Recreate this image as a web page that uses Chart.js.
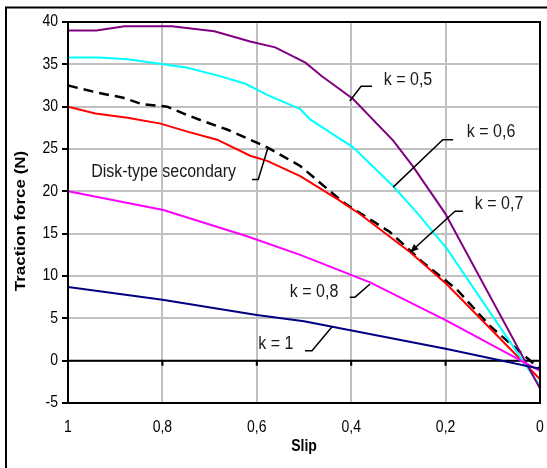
<!DOCTYPE html>
<html>
<head>
<meta charset="utf-8">
<script src="https://cdn.jsdelivr.net/npm/chart.js@4.4.0/dist/chart.umd.min.js"></script>
<style>
  html, body { margin: 0; padding: 0; background: #fff; }
  #wrap { position: relative; width: 547px; height: 468px; }
</style>
</head>
<body>
<div id="wrap"><canvas id="chart" width="547" height="468"></canvas></div>
<script>
// values (slip, traction force N)
const slipK05 = [1, 0.94, 0.88, 0.78, 0.69, 0.614, 0.561, 0.497, 0.462, 0.396, 0.311, 0.27, 0.201, 0];
const forceK05 = [39.0, 39.0, 39.5, 39.5, 38.9, 37.7, 37.0, 35.2, 33.6, 30.9, 26.0, 23.0, 17.4, -3.3];

const slipK06 = [1, 0.935, 0.874, 0.798, 0.747, 0.684, 0.624, 0.578, 0.508, 0.487, 0.396, 0.311, 0.258, 0.197, 0];
const forceK06 = [35.8, 35.8, 35.6, 35.0, 34.6, 33.7, 32.7, 31.4, 29.7, 28.5, 25.2, 20.6, 17.3, 13.2, -3.0];

const slipK07 = [1, 0.942, 0.874, 0.804, 0.747, 0.684, 0.614, 0.578, 0.508, 0.43, 0.381, 0.275, 0.197, 0];
const forceK07 = [30.0, 29.2, 28.7, 28.0, 27.05, 26.1, 24.2, 23.6, 21.8, 19.1, 17.3, 12.8, 9.0, -2.2];

const slipK08 = [1, 0.798, 0.624, 0.508, 0.36, 0.197, 0];
const forceK08 = [20.0, 17.8, 14.75, 12.5, 9.25, 4.7, -1.2];

const slipK1 = [1, 0.8, 0.6, 0.5, 0.2, 0];
const forceK1 = [8.7, 7.2, 5.4, 4.65, 1.4, -0.95];

const slipDisk = [1, 0.937, 0.883, 0.843, 0.79, 0.756, 0.714, 0.663, 0.614, 0.578, 0.508, 0.417, 0.318, 0.248, 0.176, 0.106, 0];
const forceDisk = [32.5, 31.65, 31.05, 30.3, 30.0, 29.2, 28.3, 27.3, 26.1, 25.2, 23.0, 18.7, 15.2, 11.6, 8.4, 4.1, -1.0];

const yTicks = [-5, 0, 5, 10, 15, 20, 25, 30, 35, 40];
const xTicks = [0, 0.2, 0.4, 0.6, 0.8, 1];

// label text, its left/middle point and the leader path, in data units (slip, force)
const notes = [
  { text: 'k = 0,5', at: [0.331, 33.1], path: [[0.403, 30.66], [0.379, 32.4], [0.356, 32.4]] },
  { text: 'k = 0,6', at: [0.155, 27.0], path: [[0.311, 20.5], [0.206, 26.1], [0.184, 26.1]] },
  { text: 'k = 0,7', at: [0.138, 18.5], path: [[0.163, 17.65], [0.180, 17.65], [0.275, 12.8]], arrow: true },
  { text: 'k = 0,8', at: [0.530, 8.14], path: [[0.403, 7.5], [0.392, 7.5], [0.360, 9.05]] },
  { text: 'k = 1', at: [0.597, 1.97], path: [[0.498, 1.18], [0.483, 1.18], [0.441, 3.97]] },
  { text: 'Disk-type secondary', at: [0.951, 22.3], path: [[0.610, 21.4], [0.597, 21.4], [0.576, 25.2]] }
];

const FONT = "'Liberation Sans', Arial, sans-serif";
const STRETCH = 1.13; // the source picture is a little taller than wide

function pairs(xs, ys) {
  return xs.map((x, i) => ({ x, y: ys[i] }));
}

function series(label, xs, ys, color, extra) {
  return Object.assign({
    label,
    data: pairs(xs, ys),
    borderColor: color,
    borderWidth: 2,
    pointRadius: 0,
    showLine: true,
    tension: 0
  }, extra || {});
}

// text stretched a little along the page's vertical direction
function tallText(ctx, text, px, py, rotate) {
  ctx.save();
  ctx.translate(px, py);
  ctx.scale(1, STRETCH);
  if (rotate) ctx.rotate(-Math.PI / 2);
  ctx.fillText(text, 0, 0);
  ctx.restore();
}

const decorations = {
  id: 'decorations',
  beforeDatasetsDraw(chart) {
    const { ctx, chartArea: a, scales: { x, y } } = chart;
    // zero line and its tick marks
    const y0 = y.getPixelForValue(0);
    ctx.save();
    ctx.strokeStyle = '#000';
    ctx.lineWidth = 2;
    ctx.beginPath();
    ctx.moveTo(a.left, y0);
    ctx.lineTo(a.right, y0);
    xTicks.forEach(v => {
      const px = x.getPixelForValue(v);
      ctx.moveTo(px, y0);
      ctx.lineTo(px, y0 + 5);
    });
    ctx.stroke();
    ctx.restore();
  },
  afterDraw(chart) {
    const { ctx, chartArea: a, scales: { x, y } } = chart;
    ctx.save();
    // plot frame
    ctx.strokeStyle = '#000';
    ctx.lineWidth = 2;
    ctx.strokeRect(a.left, a.top, a.right - a.left, a.bottom - a.top);
    // outer frame (runs off the right and bottom edges)
    ctx.strokeRect(6, 7.5, 700, 700);

    ctx.fillStyle = '#000';
    ctx.textBaseline = 'middle';

    // tick labels
    ctx.font = '14px ' + FONT;
    ctx.textAlign = 'right';
    yTicks.forEach(v => tallText(ctx, String(v), a.left - 10, y.getPixelForValue(v)));
    ctx.textAlign = 'center';
    xTicks.forEach(v => tallText(ctx, String(v).replace('.', ','), x.getPixelForValue(v), 428));

    // axis titles
    ctx.font = 'bold 14px ' + FONT;
    tallText(ctx, 'Slip', 304, 447);
    ctx.font = 'bold 15px ' + FONT;
    tallText(ctx, 'Traction force (N)', 21, 221, true);

    // labels with leader lines
    ctx.font = '16px ' + FONT;
    ctx.textAlign = 'left';
    ctx.lineWidth = 1.5;
    notes.forEach(n => {
      ctx.fillStyle = '#1a1a1a';
      tallText(ctx, n.text, x.getPixelForValue(n.at[0]), y.getPixelForValue(n.at[1]));
      const pts = n.path.map(p => [x.getPixelForValue(p[0]), y.getPixelForValue(p[1])]);
      ctx.beginPath();
      pts.forEach((p, i) => i ? ctx.lineTo(p[0], p[1]) : ctx.moveTo(p[0], p[1]));
      ctx.stroke();
      if (n.arrow) {
        const [p1, p2] = pts.slice(-2);
        const ang = Math.atan2(p2[1] - p1[1], p2[0] - p1[0]);
        ctx.fillStyle = '#000';
        ctx.beginPath();
        ctx.moveTo(p2[0], p2[1]);
        ctx.lineTo(p2[0] - 9 * Math.cos(ang - 0.4), p2[1] - 9 * Math.sin(ang - 0.4));
        ctx.lineTo(p2[0] - 9 * Math.cos(ang + 0.4), p2[1] - 9 * Math.sin(ang + 0.4));
        ctx.closePath();
        ctx.fill();
      }
    });
    ctx.restore();
  }
};

new Chart(document.getElementById('chart'), {
  type: 'scatter',
  data: {
    datasets: [
      series('k = 1', slipK1, forceK1, '#000080'),
      series('k = 0,8', slipK08, forceK08, '#ff00ff'),
      series('k = 0,5', slipK05, forceK05, '#800080'),
      series('k = 0,6', slipK06, forceK06, '#00ffff'),
      series('k = 0,7', slipK07, forceK07, '#ff0000'),
      series('Disk-type secondary', slipDisk, forceDisk, '#000', { borderDash: [10, 6], borderWidth: 2.5 })
    ]
  },
  options: {
    responsive: false,
    animation: false,
    layout: { padding: { top: 22, right: 7, left: 0, bottom: 0 } },
    plugins: {
      legend: { display: false },
      tooltip: { enabled: false }
    },
    scales: {
      x: {
        type: 'linear',
        reverse: true,
        min: 0,
        max: 1,
        afterFit(s) { s.height = 65; },
        afterBuildTicks(s) { s.ticks = xTicks.map(v => ({ value: v })); },
        ticks: {
          color: 'rgba(0,0,0,0)', // drawn by the plugin, slightly stretched
          font: { family: FONT, size: 14 },
          padding: 17,
          maxRotation: 0,
          callback: v => String(v).replace('.', ',')
        },
        grid: { color: '#c0c0c0', lineWidth: 2, drawTicks: false, tickLength: 0 },
        border: { display: false }
      },
      y: {
        min: -5,
        max: 40,
        afterFit(s) { s.width = 68; },
        afterBuildTicks(s) { s.ticks = yTicks.map(v => ({ value: v })); },
        ticks: {
          color: 'rgba(0,0,0,0)',
          font: { family: FONT, size: 14 },
          padding: 3
        },
        grid: { color: '#c0c0c0', lineWidth: 2, tickColor: '#000', tickLength: 6, tickWidth: 2 },
        border: { display: false }
      }
    }
  },
  plugins: [decorations]
});
</script>
</body>
</html>
